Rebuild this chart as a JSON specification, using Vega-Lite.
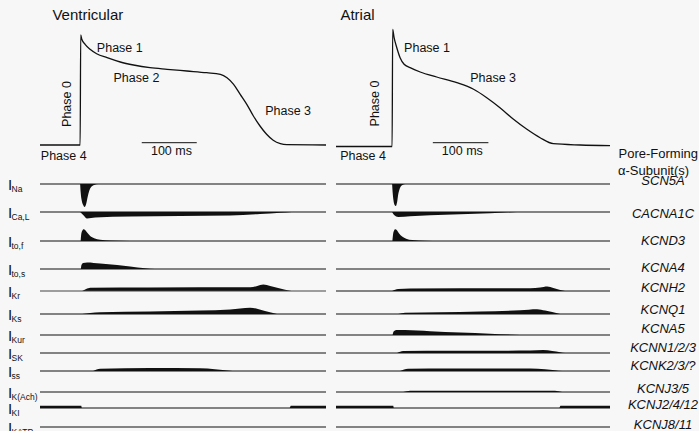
{
"$schema": "https://vega.github.io/schema/vega-lite/v6.json",
"background": "#f7f7f7",
"padding": {"left": 8, "top": 8, "right": 0, "bottom": 0},
"config": {"font": "Liberation Sans", "view": {"stroke": null}, "text": {"color": "#111"}},
"datasets": {
 "ap": [
  {"tissue":"Ventricular","t":-73,"v":-85},{"tissue":"Ventricular","t":0,"v":-85},{"tissue":"Ventricular","t":1,"v":25},{"tissue":"Ventricular","t":3,"v":20.7},{"tissue":"Ventricular","t":9,"v":15.7},{"tissue":"Ventricular","t":18,"v":10.7},{"tissue":"Ventricular","t":30,"v":6.3},{"tissue":"Ventricular","t":49,"v":2.3},{"tissue":"Ventricular","t":73,"v":-2},{"tissue":"Ventricular","t":97,"v":-5},{"tissue":"Ventricular","t":127,"v":-7.7},{"tissue":"Ventricular","t":158,"v":-9.3},{"tissue":"Ventricular","t":194,"v":-11},{"tissue":"Ventricular","t":230,"v":-12.7},{"tissue":"Ventricular","t":255,"v":-14.3},{"tissue":"Ventricular","t":267,"v":-17.7},{"tissue":"Ventricular","t":279,"v":-24.3},{"tissue":"Ventricular","t":291,"v":-34.3},{"tissue":"Ventricular","t":303,"v":-44.3},{"tissue":"Ventricular","t":315,"v":-56},{"tissue":"Ventricular","t":327,"v":-66},{"tissue":"Ventricular","t":339,"v":-74.3},{"tissue":"Ventricular","t":351,"v":-80.3},{"tissue":"Ventricular","t":364,"v":-83.7},{"tissue":"Ventricular","t":376,"v":-84.7},{"tissue":"Ventricular","t":447,"v":-85},
  {"tissue":"Atrial","t":-102,"v":-86.5},{"tissue":"Atrial","t":0,"v":-86.5},{"tissue":"Atrial","t":1,"v":30.7},{"tissue":"Atrial","t":3.6,"v":22.3},{"tissue":"Atrial","t":8.5,"v":12.3},{"tissue":"Atrial","t":14.5,"v":2.3},{"tissue":"Atrial","t":21.8,"v":-4.3},{"tissue":"Atrial","t":32.7,"v":-7.7},{"tissue":"Atrial","t":51,"v":-12},{"tissue":"Atrial","t":81,"v":-17},{"tissue":"Atrial","t":117.6,"v":-22.7},{"tissue":"Atrial","t":148,"v":-29.3},{"tissue":"Atrial","t":172,"v":-37.7},{"tissue":"Atrial","t":196,"v":-47.7},{"tissue":"Atrial","t":220.6,"v":-59.3},{"tissue":"Atrial","t":245,"v":-69.3},{"tissue":"Atrial","t":269,"v":-77.7},{"tissue":"Atrial","t":293,"v":-83.7},{"tissue":"Atrial","t":342,"v":-85},{"tissue":"Atrial","t":396,"v":-85.7}
 ],
 "bars": [
  {"tissue":"Ventricular","t1":112,"t2":212,"v":-82.7},
  {"tissue":"Atrial","t1":74,"t2":175,"v":-82.7}
 ],
 "notes": [
  {"tissue":"Ventricular","kind":"left","label":"Phase 1","t":30.4,"v":12.3},
  {"tissue":"Ventricular","kind":"left","label":"Phase 2","t":60.6,"v":-17.7},
  {"tissue":"Ventricular","kind":"left","label":"Phase 3","t":336.4,"v":-50.7},
  {"tissue":"Ventricular","kind":"left","label":"Phase 4","t":-71.5,"v":-96},
  {"tissue":"Ventricular","kind":"rot","label":"Phase 0","t":-24,"v":-44},
  {"tissue":"Ventricular","kind":"center","label":"100 ms","t":166,"v":-90.5},
  {"tissue":"Atrial","kind":"left","label":"Phase 1","t":21.8,"v":12.3},
  {"tissue":"Atrial","kind":"left","label":"Phase 3","t":141.8,"v":-17.7},
  {"tissue":"Atrial","kind":"left","label":"Phase 4","t":-94.5,"v":-96},
  {"tissue":"Atrial","kind":"rot","label":"Phase 0","t":-31,"v":-43.5},
  {"tissue":"Atrial","kind":"center","label":"100 ms","t":127.6,"v":-90.5},
  {"tissue":"Atrial","kind":"head","label":"Pore-Forming","t":411.5,"v":-94.3},
  {"tissue":"Atrial","kind":"head","label":"α-Subunit(s)","t":410.5,"v":-111}
 ],
 "rows": [
  {"current":"Na","gene":"SCN5A"},{"current":"Ca,L","gene":"CACNA1C"},{"current":"to,f","gene":"KCND3"},{"current":"to,s","gene":"KCNA4"},{"current":"Kr","gene":"KCNH2"},{"current":"Ks","gene":"KCNQ1"},{"current":"Kur","gene":"KCNA5"},{"current":"SK","gene":"KCNN1/2/3"},{"current":"ss","gene":"KCNK2/3/?"},{"current":"K(Ach)","gene":"KCNJ3/5"},{"current":"KI","gene":"KCNJ2/4/12"},{"current":"KATP","gene":"KCNJ8/11"}
 ],
 "cur": [
  {"tissue":"Ventricular","current":"Na","t":0,"amp":0},{"tissue":"Ventricular","current":"Na","t":0.9,"amp":-8},{"tissue":"Ventricular","current":"Na","t":2.7,"amp":-16},{"tissue":"Ventricular","current":"Na","t":5.5,"amp":-21},{"tissue":"Ventricular","current":"Na","t":8.2,"amp":-23},{"tissue":"Ventricular","current":"Na","t":10.9,"amp":-20},{"tissue":"Ventricular","current":"Na","t":13.6,"amp":-13},{"tissue":"Ventricular","current":"Na","t":16.4,"amp":-7},{"tissue":"Ventricular","current":"Na","t":20,"amp":-3},{"tissue":"Ventricular","current":"Na","t":25.5,"amp":-1},{"tissue":"Ventricular","current":"Na","t":32.7,"amp":0},
  {"tissue":"Ventricular","current":"Ca,L","t":0,"amp":0},{"tissue":"Ventricular","current":"Ca,L","t":5.5,"amp":-3},{"tissue":"Ventricular","current":"Ca,L","t":12.7,"amp":-6.5},{"tissue":"Ventricular","current":"Ca,L","t":27.3,"amp":-5.5},{"tissue":"Ventricular","current":"Ca,L","t":90.9,"amp":-4.5},{"tissue":"Ventricular","current":"Ca,L","t":181.8,"amp":-4},{"tissue":"Ventricular","current":"Ca,L","t":272.7,"amp":-3.5},{"tissue":"Ventricular","current":"Ca,L","t":327,"amp":-2},{"tissue":"Ventricular","current":"Ca,L","t":363.6,"amp":-0.8},{"tissue":"Ventricular","current":"Ca,L","t":385,"amp":0},
  {"tissue":"Ventricular","current":"to,f","t":0.9,"amp":0},{"tissue":"Ventricular","current":"to,f","t":1.8,"amp":6},{"tissue":"Ventricular","current":"to,f","t":3.6,"amp":10},{"tissue":"Ventricular","current":"to,f","t":6.4,"amp":11.7},{"tissue":"Ventricular","current":"to,f","t":9.1,"amp":11},{"tissue":"Ventricular","current":"to,f","t":12.7,"amp":8.5},{"tissue":"Ventricular","current":"to,f","t":18.2,"amp":5},{"tissue":"Ventricular","current":"to,f","t":25.5,"amp":2.8},{"tissue":"Ventricular","current":"to,f","t":36.4,"amp":1.3},{"tissue":"Ventricular","current":"to,f","t":54.5,"amp":0.5},{"tissue":"Ventricular","current":"to,f","t":91,"amp":0},
  {"tissue":"Ventricular","current":"to,s","t":1.3,"amp":0},{"tissue":"Ventricular","current":"to,s","t":2.4,"amp":4},{"tissue":"Ventricular","current":"to,s","t":5.5,"amp":6},{"tissue":"Ventricular","current":"to,s","t":12.7,"amp":6.6},{"tissue":"Ventricular","current":"to,s","t":36.4,"amp":5.5},{"tissue":"Ventricular","current":"to,s","t":67.3,"amp":4},{"tissue":"Ventricular","current":"to,s","t":90.9,"amp":2.5},{"tissue":"Ventricular","current":"to,s","t":118,"amp":0.8},{"tissue":"Ventricular","current":"to,s","t":136,"amp":0},
  {"tissue":"Ventricular","current":"Kr","t":3.6,"amp":0},{"tissue":"Ventricular","current":"Kr","t":10.9,"amp":2},{"tissue":"Ventricular","current":"Kr","t":18.2,"amp":3.3},{"tissue":"Ventricular","current":"Kr","t":127,"amp":3.5},{"tissue":"Ventricular","current":"Kr","t":309,"amp":3.7},{"tissue":"Ventricular","current":"Kr","t":322,"amp":5},{"tissue":"Ventricular","current":"Kr","t":333,"amp":6.5},{"tissue":"Ventricular","current":"Kr","t":345.5,"amp":5},{"tissue":"Ventricular","current":"Kr","t":363.6,"amp":2.5},{"tissue":"Ventricular","current":"Kr","t":381.8,"amp":0.3},{"tissue":"Ventricular","current":"Kr","t":387,"amp":0},
  {"tissue":"Ventricular","current":"Ks","t":3.6,"amp":0},{"tissue":"Ventricular","current":"Ks","t":18.2,"amp":1},{"tissue":"Ventricular","current":"Ks","t":36.4,"amp":1.7},{"tissue":"Ventricular","current":"Ks","t":127,"amp":2.6},{"tissue":"Ventricular","current":"Ks","t":218,"amp":3.4},{"tissue":"Ventricular","current":"Ks","t":273,"amp":4.5},{"tissue":"Ventricular","current":"Ks","t":309,"amp":6.3},{"tissue":"Ventricular","current":"Ks","t":320,"amp":5.5},{"tissue":"Ventricular","current":"Ks","t":336,"amp":3},{"tissue":"Ventricular","current":"Ks","t":358,"amp":0},
  {"tissue":"Ventricular","current":"ss","t":23.6,"amp":0},{"tissue":"Ventricular","current":"ss","t":36.4,"amp":2.3},{"tissue":"Ventricular","current":"ss","t":127,"amp":3},{"tissue":"Ventricular","current":"ss","t":218,"amp":2.8},{"tissue":"Ventricular","current":"ss","t":245,"amp":1.8},{"tissue":"Ventricular","current":"ss","t":273,"amp":0.3},{"tissue":"Ventricular","current":"ss","t":282,"amp":0},
  {"tissue":"Ventricular","current":"KI","t":-73,"amp":2.2},{"tissue":"Ventricular","current":"KI","t":2,"amp":2.2},{"tissue":"Ventricular","current":"KI","t":3,"amp":0},{"tissue":"Ventricular","current":"KI","t":381,"amp":0},{"tissue":"Ventricular","current":"KI","t":383,"amp":2.2},{"tissue":"Ventricular","current":"KI","t":447,"amp":2.2},
  {"tissue":"Atrial","current":"Na","t":0,"amp":0},{"tissue":"Atrial","current":"Na","t":0.9,"amp":-8},{"tissue":"Atrial","current":"Na","t":2.4,"amp":-16},{"tissue":"Atrial","current":"Na","t":4.5,"amp":-21},{"tissue":"Atrial","current":"Na","t":6.7,"amp":-22},{"tissue":"Atrial","current":"Na","t":9.1,"amp":-18},{"tissue":"Atrial","current":"Na","t":10.9,"amp":-11},{"tissue":"Atrial","current":"Na","t":13.6,"amp":-5},{"tissue":"Atrial","current":"Na","t":17.3,"amp":-1.5},{"tissue":"Atrial","current":"Na","t":23.6,"amp":0},
  {"tissue":"Atrial","current":"Ca,L","t":0,"amp":0},{"tissue":"Atrial","current":"Ca,L","t":3.6,"amp":-3},{"tissue":"Atrial","current":"Ca,L","t":10.9,"amp":-5},{"tissue":"Atrial","current":"Ca,L","t":32.7,"amp":-4.2},{"tissue":"Atrial","current":"Ca,L","t":69,"amp":-3.3},{"tissue":"Atrial","current":"Ca,L","t":123.6,"amp":-2.3},{"tissue":"Atrial","current":"Ca,L","t":178,"amp":-1.2},{"tissue":"Atrial","current":"Ca,L","t":227,"amp":0},
  {"tissue":"Atrial","current":"to,f","t":0.5,"amp":0},{"tissue":"Atrial","current":"to,f","t":1.8,"amp":7},{"tissue":"Atrial","current":"to,f","t":3.6,"amp":10.5},{"tissue":"Atrial","current":"to,f","t":5.5,"amp":11.7},{"tissue":"Atrial","current":"to,f","t":9.1,"amp":10.5},{"tissue":"Atrial","current":"to,f","t":12.7,"amp":7.5},{"tissue":"Atrial","current":"to,f","t":18.2,"amp":4.5},{"tissue":"Atrial","current":"to,f","t":25.5,"amp":2.3},{"tissue":"Atrial","current":"to,f","t":36.4,"amp":1},{"tissue":"Atrial","current":"to,f","t":60,"amp":0.3},{"tissue":"Atrial","current":"to,f","t":87,"amp":0},
  {"tissue":"Atrial","current":"Kr","t":0,"amp":0},{"tissue":"Atrial","current":"Kr","t":10.9,"amp":2},{"tissue":"Atrial","current":"Kr","t":32.7,"amp":2.5},{"tissue":"Atrial","current":"Kr","t":251,"amp":2.8},{"tissue":"Atrial","current":"Kr","t":269,"amp":3.5},{"tissue":"Atrial","current":"Kr","t":282,"amp":4.5},{"tissue":"Atrial","current":"Kr","t":293,"amp":3},{"tissue":"Atrial","current":"Kr","t":305.5,"amp":1},{"tissue":"Atrial","current":"Kr","t":314.5,"amp":0},
  {"tissue":"Atrial","current":"Ks","t":10.9,"amp":0},{"tissue":"Atrial","current":"Ks","t":23.6,"amp":1.2},{"tissue":"Atrial","current":"Ks","t":87,"amp":1.8},{"tissue":"Atrial","current":"Ks","t":160,"amp":2.6},{"tissue":"Atrial","current":"Ks","t":232.7,"amp":3.8},{"tissue":"Atrial","current":"Ks","t":263.6,"amp":4.8},{"tissue":"Atrial","current":"Ks","t":278,"amp":3.5},{"tissue":"Atrial","current":"Ks","t":291,"amp":2},{"tissue":"Atrial","current":"Ks","t":305.5,"amp":0},
  {"tissue":"Atrial","current":"Kur","t":0.9,"amp":0},{"tissue":"Atrial","current":"Kur","t":2.7,"amp":3.5},{"tissue":"Atrial","current":"Kur","t":7.3,"amp":5},{"tissue":"Atrial","current":"Kur","t":23.6,"amp":5},{"tissue":"Atrial","current":"Kur","t":69,"amp":3.8},{"tissue":"Atrial","current":"Kur","t":123.6,"amp":2.5},{"tissue":"Atrial","current":"Kur","t":178,"amp":1.3},{"tissue":"Atrial","current":"Kur","t":232.7,"amp":0},
  {"tissue":"Atrial","current":"SK","t":9.1,"amp":0},{"tissue":"Atrial","current":"SK","t":20,"amp":2},{"tissue":"Atrial","current":"SK","t":105.5,"amp":2.3},{"tissue":"Atrial","current":"SK","t":251,"amp":2.4},{"tissue":"Atrial","current":"SK","t":274.5,"amp":2.9},{"tissue":"Atrial","current":"SK","t":291,"amp":2},{"tissue":"Atrial","current":"SK","t":305.5,"amp":0.8},{"tissue":"Atrial","current":"SK","t":314.5,"amp":0},
  {"tissue":"Atrial","current":"ss","t":14.5,"amp":0},{"tissue":"Atrial","current":"ss","t":29,"amp":2.3},{"tissue":"Atrial","current":"ss","t":105.5,"amp":2.6},{"tissue":"Atrial","current":"ss","t":251,"amp":2.5},{"tissue":"Atrial","current":"ss","t":278,"amp":1.8},{"tissue":"Atrial","current":"ss","t":296,"amp":0.8},{"tissue":"Atrial","current":"ss","t":309,"amp":0},
  {"tissue":"Atrial","current":"K(Ach)","t":20,"amp":0},{"tissue":"Atrial","current":"K(Ach)","t":32.7,"amp":1.2},{"tissue":"Atrial","current":"K(Ach)","t":296,"amp":1.2},{"tissue":"Atrial","current":"K(Ach)","t":309,"amp":0},
  {"tissue":"Atrial","current":"KI","t":-102,"amp":2.2},{"tissue":"Atrial","current":"KI","t":2,"amp":2.2},{"tissue":"Atrial","current":"KI","t":3,"amp":0},{"tissue":"Atrial","current":"KI","t":304,"amp":0},{"tissue":"Atrial","current":"KI","t":306,"amp":2.2},{"tissue":"Atrial","current":"KI","t":396,"amp":2.2}
 ]
},
"columns": 2,
"spacing": {"row": 0, "column": 10},
"bounds": "flush",
"concat": [
  {"width": 286, "height": 150,
   "title": {"text": "Ventricular", "anchor": "start", "dx": 15, "dy": 14, "offset": 0, "baseline": "alphabetic", "fontSize": 15, "fontWeight": "normal", "color": "#111"},
   "layer": [
    {"data": {"name": "ap"}, "transform": [{"filter": "datum.tissue === 'Ventricular'"}], "mark": {"type": "line", "interpolate": "monotone", "color": "#111", "strokeWidth": 1.3}, "encoding": {"x": {"field": "t", "type": "quantitative", "scale": {"domain": [-73, 447], "nice": false, "zero": false}, "axis": null}, "y": {"field": "v", "type": "quantitative", "scale": {"domain": [-111, 39], "nice": false, "zero": false}, "axis": null}}},
    {"data": {"name": "bars"}, "transform": [{"filter": "datum.tissue === 'Ventricular'"}], "mark": {"type": "rule", "color": "#111", "strokeWidth": 1}, "encoding": {"x": {"field": "t1", "type": "quantitative"}, "x2": {"field": "t2"}, "y": {"field": "v", "type": "quantitative"}}},
    {"data": {"name": "notes"}, "transform": [{"filter": "datum.tissue === 'Ventricular' && datum.kind === 'left'"}], "mark": {"type": "text", "align": "left", "baseline": "middle", "fontSize": 12.5}, "encoding": {"x": {"field": "t", "type": "quantitative"}, "y": {"field": "v", "type": "quantitative"}, "text": {"field": "label"}}},
    {"data": {"name": "notes"}, "transform": [{"filter": "datum.tissue === 'Ventricular' && datum.kind === 'rot'"}], "mark": {"type": "text", "align": "center", "baseline": "middle", "angle": 270, "fontSize": 12.5}, "encoding": {"x": {"field": "t", "type": "quantitative"}, "y": {"field": "v", "type": "quantitative"}, "text": {"field": "label"}}},
    {"data": {"name": "notes"}, "transform": [{"filter": "datum.tissue === 'Ventricular' && datum.kind === 'center'"}], "mark": {"type": "text", "align": "center", "baseline": "middle", "fontSize": 12.5}, "encoding": {"x": {"field": "t", "type": "quantitative"}, "y": {"field": "v", "type": "quantitative"}, "text": {"field": "label"}}}
   ]},
  {"width": 274, "height": 150,
   "title": {"text": "Atrial", "anchor": "start", "dx": 7, "dy": 14, "offset": 0, "baseline": "alphabetic", "fontSize": 15, "fontWeight": "normal", "color": "#111"},
   "layer": [
    {"data": {"name": "ap"}, "transform": [{"filter": "datum.tissue === 'Atrial'"}], "mark": {"type": "line", "interpolate": "monotone", "color": "#111", "strokeWidth": 1.3}, "encoding": {"x": {"field": "t", "type": "quantitative", "scale": {"domain": [-102, 396], "nice": false, "zero": false}, "axis": null}, "y": {"field": "v", "type": "quantitative", "scale": {"domain": [-111, 39], "nice": false, "zero": false}, "axis": null}}},
    {"data": {"name": "bars"}, "transform": [{"filter": "datum.tissue === 'Atrial'"}], "mark": {"type": "rule", "color": "#111", "strokeWidth": 1}, "encoding": {"x": {"field": "t1", "type": "quantitative"}, "x2": {"field": "t2"}, "y": {"field": "v", "type": "quantitative"}}},
    {"data": {"name": "notes"}, "transform": [{"filter": "datum.tissue === 'Atrial' && datum.kind === 'left'"}], "mark": {"type": "text", "align": "left", "baseline": "middle", "fontSize": 12.5}, "encoding": {"x": {"field": "t", "type": "quantitative"}, "y": {"field": "v", "type": "quantitative"}, "text": {"field": "label"}}},
    {"data": {"name": "notes"}, "transform": [{"filter": "datum.tissue === 'Atrial' && datum.kind === 'rot'"}], "mark": {"type": "text", "align": "center", "baseline": "middle", "angle": 270, "fontSize": 12.5}, "encoding": {"x": {"field": "t", "type": "quantitative"}, "y": {"field": "v", "type": "quantitative"}, "text": {"field": "label"}}},
    {"data": {"name": "notes"}, "transform": [{"filter": "datum.tissue === 'Atrial' && datum.kind === 'center'"}], "mark": {"type": "text", "align": "center", "baseline": "middle", "fontSize": 12.5}, "encoding": {"x": {"field": "t", "type": "quantitative"}, "y": {"field": "v", "type": "quantitative"}, "text": {"field": "label"}}},
    {"data": {"name": "notes"}, "transform": [{"filter": "datum.tissue === 'Atrial' && datum.kind === 'head'"}], "mark": {"type": "text", "align": "left", "baseline": "middle", "fontSize": 13}, "encoding": {"x": {"field": "t", "type": "quantitative"}, "y": {"field": "v", "type": "quantitative"}, "text": {"field": "label"}}}
   ]},

  {"width": 286, "height": 28, "layer": [
   {"data": {"name": "cur"}, "transform": [{"filter": "datum.tissue === 'Ventricular' && datum.current === 'Na'"}], "mark": {"type": "area", "interpolate": "monotone", "color": "#111"}, "encoding": {"x": {"field": "t", "type": "quantitative", "scale": {"domain": [-73, 447], "nice": false, "zero": false}, "axis": null}, "y": {"field": "amp", "type": "quantitative", "scale": {"domain": [-15, 13], "nice": false, "zero": false}, "axis": null}, "y2": {"datum": 0}}},
   {"data": {"name": "rows"}, "transform": [{"filter": "datum.current === 'Na'"}], "layer": [
    {"mark": {"type": "rule", "color": "#111", "strokeWidth": 1.1}, "encoding": {"y": {"datum": 0, "type": "quantitative"}}},
    {"mark": {"type": "text", "text": "I", "align": "left", "baseline": "alphabetic", "dx": -32, "dy": 6, "fontSize": 15}, "encoding": {"x": {"datum": -73, "type": "quantitative"}, "y": {"datum": 0, "type": "quantitative"}}},
    {"mark": {"type": "text", "align": "left", "baseline": "alphabetic", "dx": -28.5, "dy": 8, "fontSize": 8.5}, "encoding": {"x": {"datum": -73, "type": "quantitative"}, "y": {"datum": 0, "type": "quantitative"}, "text": {"field": "current"}}}
   ]}
  ]},
  {"width": 274, "height": 28, "layer": [
   {"data": {"name": "cur"}, "transform": [{"filter": "datum.tissue === 'Atrial' && datum.current === 'Na'"}], "mark": {"type": "area", "interpolate": "monotone", "color": "#111"}, "encoding": {"x": {"field": "t", "type": "quantitative", "scale": {"domain": [-102, 396], "nice": false, "zero": false}, "axis": null}, "y": {"field": "amp", "type": "quantitative", "scale": {"domain": [-15, 13], "nice": false, "zero": false}, "axis": null}, "y2": {"datum": 0}}},
   {"data": {"name": "rows"}, "transform": [{"filter": "datum.current === 'Na'"}], "layer": [
    {"mark": {"type": "rule", "color": "#111", "strokeWidth": 1.1}, "encoding": {"y": {"datum": 0, "type": "quantitative"}}},
    {"mark": {"type": "text", "align": "center", "baseline": "middle", "dx": 53, "dy": -3, "fontSize": 13, "fontStyle": "italic"}, "encoding": {"x": {"datum": 396, "type": "quantitative"}, "y": {"datum": 0, "type": "quantitative"}, "text": {"field": "gene"}}}
   ]}
  ]},

  {"width": 286, "height": 29, "layer": [
   {"data": {"name": "cur"}, "transform": [{"filter": "datum.tissue === 'Ventricular' && datum.current === 'Ca,L'"}], "mark": {"type": "area", "interpolate": "monotone", "color": "#111"}, "encoding": {"x": {"field": "t", "type": "quantitative", "scale": {"domain": [-73, 447], "nice": false, "zero": false}, "axis": null}, "y": {"field": "amp", "type": "quantitative", "scale": {"domain": [-16, 13], "nice": false, "zero": false}, "axis": null}, "y2": {"datum": 0}}},
   {"data": {"name": "rows"}, "transform": [{"filter": "datum.current === 'Ca,L'"}], "layer": [
    {"mark": {"type": "rule", "color": "#111", "strokeWidth": 1.1}, "encoding": {"y": {"datum": 0, "type": "quantitative"}}},
    {"mark": {"type": "text", "text": "I", "align": "left", "baseline": "alphabetic", "dx": -32, "dy": 6, "fontSize": 15}, "encoding": {"x": {"datum": -73, "type": "quantitative"}, "y": {"datum": 0, "type": "quantitative"}}},
    {"mark": {"type": "text", "align": "left", "baseline": "alphabetic", "dx": -28.5, "dy": 8, "fontSize": 8.5}, "encoding": {"x": {"datum": -73, "type": "quantitative"}, "y": {"datum": 0, "type": "quantitative"}, "text": {"field": "current"}}}
   ]}
  ]},
  {"width": 274, "height": 29, "layer": [
   {"data": {"name": "cur"}, "transform": [{"filter": "datum.tissue === 'Atrial' && datum.current === 'Ca,L'"}], "mark": {"type": "area", "interpolate": "monotone", "color": "#111"}, "encoding": {"x": {"field": "t", "type": "quantitative", "scale": {"domain": [-102, 396], "nice": false, "zero": false}, "axis": null}, "y": {"field": "amp", "type": "quantitative", "scale": {"domain": [-16, 13], "nice": false, "zero": false}, "axis": null}, "y2": {"datum": 0}}},
   {"data": {"name": "rows"}, "transform": [{"filter": "datum.current === 'Ca,L'"}], "layer": [
    {"mark": {"type": "rule", "color": "#111", "strokeWidth": 1.1}, "encoding": {"y": {"datum": 0, "type": "quantitative"}}},
    {"mark": {"type": "text", "align": "center", "baseline": "middle", "dx": 53, "dy": 2, "fontSize": 13, "fontStyle": "italic"}, "encoding": {"x": {"datum": 396, "type": "quantitative"}, "y": {"datum": 0, "type": "quantitative"}, "text": {"field": "gene"}}}
   ]}
  ]},

  {"width": 286, "height": 28, "layer": [
   {"data": {"name": "cur"}, "transform": [{"filter": "datum.tissue === 'Ventricular' && datum.current === 'to,f'"}], "mark": {"type": "area", "interpolate": "monotone", "color": "#111"}, "encoding": {"x": {"field": "t", "type": "quantitative", "scale": {"domain": [-73, 447], "nice": false, "zero": false}, "axis": null}, "y": {"field": "amp", "type": "quantitative", "scale": {"domain": [-15, 13], "nice": false, "zero": false}, "axis": null}, "y2": {"datum": 0}}},
   {"data": {"name": "rows"}, "transform": [{"filter": "datum.current === 'to,f'"}], "layer": [
    {"mark": {"type": "rule", "color": "#111", "strokeWidth": 1.1}, "encoding": {"y": {"datum": 0, "type": "quantitative"}}},
    {"mark": {"type": "text", "text": "I", "align": "left", "baseline": "alphabetic", "dx": -32, "dy": 6, "fontSize": 15}, "encoding": {"x": {"datum": -73, "type": "quantitative"}, "y": {"datum": 0, "type": "quantitative"}}},
    {"mark": {"type": "text", "align": "left", "baseline": "alphabetic", "dx": -28.5, "dy": 8, "fontSize": 8.5}, "encoding": {"x": {"datum": -73, "type": "quantitative"}, "y": {"datum": 0, "type": "quantitative"}, "text": {"field": "current"}}}
   ]}
  ]},
  {"width": 274, "height": 28, "layer": [
   {"data": {"name": "cur"}, "transform": [{"filter": "datum.tissue === 'Atrial' && datum.current === 'to,f'"}], "mark": {"type": "area", "interpolate": "monotone", "color": "#111"}, "encoding": {"x": {"field": "t", "type": "quantitative", "scale": {"domain": [-102, 396], "nice": false, "zero": false}, "axis": null}, "y": {"field": "amp", "type": "quantitative", "scale": {"domain": [-15, 13], "nice": false, "zero": false}, "axis": null}, "y2": {"datum": 0}}},
   {"data": {"name": "rows"}, "transform": [{"filter": "datum.current === 'to,f'"}], "layer": [
    {"mark": {"type": "rule", "color": "#111", "strokeWidth": 1.1}, "encoding": {"y": {"datum": 0, "type": "quantitative"}}},
    {"mark": {"type": "text", "align": "center", "baseline": "middle", "dx": 53, "dy": 0, "fontSize": 13, "fontStyle": "italic"}, "encoding": {"x": {"datum": 396, "type": "quantitative"}, "y": {"datum": 0, "type": "quantitative"}, "text": {"field": "gene"}}}
   ]}
  ]},

  {"width": 286, "height": 22, "layer": [
   {"data": {"name": "cur"}, "transform": [{"filter": "datum.tissue === 'Ventricular' && datum.current === 'to,s'"}], "mark": {"type": "area", "interpolate": "monotone", "color": "#111"}, "encoding": {"x": {"field": "t", "type": "quantitative", "scale": {"domain": [-73, 447], "nice": false, "zero": false}, "axis": null}, "y": {"field": "amp", "type": "quantitative", "scale": {"domain": [-9, 13], "nice": false, "zero": false}, "axis": null}, "y2": {"datum": 0}}},
   {"data": {"name": "rows"}, "transform": [{"filter": "datum.current === 'to,s'"}], "layer": [
    {"mark": {"type": "rule", "color": "#111", "strokeWidth": 1.1}, "encoding": {"y": {"datum": 0, "type": "quantitative"}}},
    {"mark": {"type": "text", "text": "I", "align": "left", "baseline": "alphabetic", "dx": -32, "dy": 6, "fontSize": 15}, "encoding": {"x": {"datum": -73, "type": "quantitative"}, "y": {"datum": 0, "type": "quantitative"}}},
    {"mark": {"type": "text", "align": "left", "baseline": "alphabetic", "dx": -28.5, "dy": 8, "fontSize": 8.5}, "encoding": {"x": {"datum": -73, "type": "quantitative"}, "y": {"datum": 0, "type": "quantitative"}, "text": {"field": "current"}}}
   ]}
  ]},
  {"width": 274, "height": 22, "layer": [
   {"data": {"name": "cur"}, "transform": [{"filter": "datum.tissue === 'Atrial' && datum.current === 'to,s'"}], "mark": {"type": "area", "interpolate": "monotone", "color": "#111"}, "encoding": {"x": {"field": "t", "type": "quantitative", "scale": {"domain": [-102, 396], "nice": false, "zero": false}, "axis": null}, "y": {"field": "amp", "type": "quantitative", "scale": {"domain": [-9, 13], "nice": false, "zero": false}, "axis": null}, "y2": {"datum": 0}}},
   {"data": {"name": "rows"}, "transform": [{"filter": "datum.current === 'to,s'"}], "layer": [
    {"mark": {"type": "rule", "color": "#111", "strokeWidth": 1.1}, "encoding": {"y": {"datum": 0, "type": "quantitative"}}},
    {"mark": {"type": "text", "align": "center", "baseline": "middle", "dx": 53, "dy": -1, "fontSize": 13, "fontStyle": "italic"}, "encoding": {"x": {"datum": 396, "type": "quantitative"}, "y": {"datum": 0, "type": "quantitative"}, "text": {"field": "gene"}}}
   ]}
  ]},

  {"width": 286, "height": 23, "layer": [
   {"data": {"name": "cur"}, "transform": [{"filter": "datum.tissue === 'Ventricular' && datum.current === 'Kr'"}], "mark": {"type": "area", "interpolate": "monotone", "color": "#111"}, "encoding": {"x": {"field": "t", "type": "quantitative", "scale": {"domain": [-73, 447], "nice": false, "zero": false}, "axis": null}, "y": {"field": "amp", "type": "quantitative", "scale": {"domain": [-10, 13], "nice": false, "zero": false}, "axis": null}, "y2": {"datum": 0}}},
   {"data": {"name": "rows"}, "transform": [{"filter": "datum.current === 'Kr'"}], "layer": [
    {"mark": {"type": "rule", "color": "#444", "strokeWidth": 1.1}, "encoding": {"y": {"datum": 0, "type": "quantitative"}}},
    {"mark": {"type": "text", "text": "I", "align": "left", "baseline": "alphabetic", "dx": -32, "dy": 6, "fontSize": 15}, "encoding": {"x": {"datum": -73, "type": "quantitative"}, "y": {"datum": 0, "type": "quantitative"}}},
    {"mark": {"type": "text", "align": "left", "baseline": "alphabetic", "dx": -28.5, "dy": 8, "fontSize": 8.5}, "encoding": {"x": {"datum": -73, "type": "quantitative"}, "y": {"datum": 0, "type": "quantitative"}, "text": {"field": "current"}}}
   ]}
  ]},
  {"width": 274, "height": 23, "layer": [
   {"data": {"name": "cur"}, "transform": [{"filter": "datum.tissue === 'Atrial' && datum.current === 'Kr'"}], "mark": {"type": "area", "interpolate": "monotone", "color": "#111"}, "encoding": {"x": {"field": "t", "type": "quantitative", "scale": {"domain": [-102, 396], "nice": false, "zero": false}, "axis": null}, "y": {"field": "amp", "type": "quantitative", "scale": {"domain": [-10, 13], "nice": false, "zero": false}, "axis": null}, "y2": {"datum": 0}}},
   {"data": {"name": "rows"}, "transform": [{"filter": "datum.current === 'Kr'"}], "layer": [
    {"mark": {"type": "rule", "color": "#111", "strokeWidth": 1.1}, "encoding": {"y": {"datum": 0, "type": "quantitative"}}},
    {"mark": {"type": "text", "align": "center", "baseline": "middle", "dx": 53, "dy": -3, "fontSize": 13, "fontStyle": "italic"}, "encoding": {"x": {"datum": 396, "type": "quantitative"}, "y": {"datum": 0, "type": "quantitative"}, "text": {"field": "gene"}}}
   ]}
  ]},

  {"width": 286, "height": 21, "layer": [
   {"data": {"name": "cur"}, "transform": [{"filter": "datum.tissue === 'Ventricular' && datum.current === 'Ks'"}], "mark": {"type": "area", "interpolate": "monotone", "color": "#111"}, "encoding": {"x": {"field": "t", "type": "quantitative", "scale": {"domain": [-73, 447], "nice": false, "zero": false}, "axis": null}, "y": {"field": "amp", "type": "quantitative", "scale": {"domain": [-8, 13], "nice": false, "zero": false}, "axis": null}, "y2": {"datum": 0}}},
   {"data": {"name": "rows"}, "transform": [{"filter": "datum.current === 'Ks'"}], "layer": [
    {"mark": {"type": "rule", "color": "#111", "strokeWidth": 1.1}, "encoding": {"y": {"datum": 0, "type": "quantitative"}}},
    {"mark": {"type": "text", "text": "I", "align": "left", "baseline": "alphabetic", "dx": -32, "dy": 6, "fontSize": 15}, "encoding": {"x": {"datum": -73, "type": "quantitative"}, "y": {"datum": 0, "type": "quantitative"}}},
    {"mark": {"type": "text", "align": "left", "baseline": "alphabetic", "dx": -28.5, "dy": 8, "fontSize": 8.5}, "encoding": {"x": {"datum": -73, "type": "quantitative"}, "y": {"datum": 0, "type": "quantitative"}, "text": {"field": "current"}}}
   ]}
  ]},
  {"width": 274, "height": 21, "layer": [
   {"data": {"name": "cur"}, "transform": [{"filter": "datum.tissue === 'Atrial' && datum.current === 'Ks'"}], "mark": {"type": "area", "interpolate": "monotone", "color": "#111"}, "encoding": {"x": {"field": "t", "type": "quantitative", "scale": {"domain": [-102, 396], "nice": false, "zero": false}, "axis": null}, "y": {"field": "amp", "type": "quantitative", "scale": {"domain": [-8, 13], "nice": false, "zero": false}, "axis": null}, "y2": {"datum": 0}}},
   {"data": {"name": "rows"}, "transform": [{"filter": "datum.current === 'Ks'"}], "layer": [
    {"mark": {"type": "rule", "color": "#111", "strokeWidth": 1.1}, "encoding": {"y": {"datum": 0, "type": "quantitative"}}},
    {"mark": {"type": "text", "align": "center", "baseline": "middle", "dx": 53, "dy": -4, "fontSize": 13, "fontStyle": "italic"}, "encoding": {"x": {"datum": 396, "type": "quantitative"}, "y": {"datum": 0, "type": "quantitative"}, "text": {"field": "gene"}}}
   ]}
  ]},

  {"width": 286, "height": 18, "layer": [
   {"data": {"name": "cur"}, "transform": [{"filter": "datum.tissue === 'Ventricular' && datum.current === 'Kur'"}], "mark": {"type": "area", "interpolate": "monotone", "color": "#111"}, "encoding": {"x": {"field": "t", "type": "quantitative", "scale": {"domain": [-73, 447], "nice": false, "zero": false}, "axis": null}, "y": {"field": "amp", "type": "quantitative", "scale": {"domain": [-5, 13], "nice": false, "zero": false}, "axis": null}, "y2": {"datum": 0}}},
   {"data": {"name": "rows"}, "transform": [{"filter": "datum.current === 'Kur'"}], "layer": [
    {"mark": {"type": "rule", "color": "#111", "strokeWidth": 1.1}, "encoding": {"y": {"datum": 0, "type": "quantitative"}}},
    {"mark": {"type": "text", "text": "I", "align": "left", "baseline": "alphabetic", "dx": -32, "dy": 6, "fontSize": 15}, "encoding": {"x": {"datum": -73, "type": "quantitative"}, "y": {"datum": 0, "type": "quantitative"}}},
    {"mark": {"type": "text", "align": "left", "baseline": "alphabetic", "dx": -28.5, "dy": 8, "fontSize": 8.5}, "encoding": {"x": {"datum": -73, "type": "quantitative"}, "y": {"datum": 0, "type": "quantitative"}, "text": {"field": "current"}}}
   ]}
  ]},
  {"width": 274, "height": 18, "layer": [
   {"data": {"name": "cur"}, "transform": [{"filter": "datum.tissue === 'Atrial' && datum.current === 'Kur'"}], "mark": {"type": "area", "interpolate": "monotone", "color": "#111"}, "encoding": {"x": {"field": "t", "type": "quantitative", "scale": {"domain": [-102, 396], "nice": false, "zero": false}, "axis": null}, "y": {"field": "amp", "type": "quantitative", "scale": {"domain": [-5, 13], "nice": false, "zero": false}, "axis": null}, "y2": {"datum": 0}}},
   {"data": {"name": "rows"}, "transform": [{"filter": "datum.current === 'Kur'"}], "layer": [
    {"mark": {"type": "rule", "color": "#111", "strokeWidth": 1.1}, "encoding": {"y": {"datum": 0, "type": "quantitative"}}},
    {"mark": {"type": "text", "align": "center", "baseline": "middle", "dx": 53, "dy": -6, "fontSize": 13, "fontStyle": "italic"}, "encoding": {"x": {"datum": 396, "type": "quantitative"}, "y": {"datum": 0, "type": "quantitative"}, "text": {"field": "gene"}}}
   ]}
  ]},

  {"width": 286, "height": 18, "layer": [
   {"data": {"name": "cur"}, "transform": [{"filter": "datum.tissue === 'Ventricular' && datum.current === 'SK'"}], "mark": {"type": "area", "interpolate": "monotone", "color": "#111"}, "encoding": {"x": {"field": "t", "type": "quantitative", "scale": {"domain": [-73, 447], "nice": false, "zero": false}, "axis": null}, "y": {"field": "amp", "type": "quantitative", "scale": {"domain": [-5, 13], "nice": false, "zero": false}, "axis": null}, "y2": {"datum": 0}}},
   {"data": {"name": "rows"}, "transform": [{"filter": "datum.current === 'SK'"}], "layer": [
    {"mark": {"type": "rule", "color": "#111", "strokeWidth": 1.1}, "encoding": {"y": {"datum": 0, "type": "quantitative"}}},
    {"mark": {"type": "text", "text": "I", "align": "left", "baseline": "alphabetic", "dx": -32, "dy": 6, "fontSize": 15}, "encoding": {"x": {"datum": -73, "type": "quantitative"}, "y": {"datum": 0, "type": "quantitative"}}},
    {"mark": {"type": "text", "align": "left", "baseline": "alphabetic", "dx": -28.5, "dy": 8, "fontSize": 8.5}, "encoding": {"x": {"datum": -73, "type": "quantitative"}, "y": {"datum": 0, "type": "quantitative"}, "text": {"field": "current"}}}
   ]}
  ]},
  {"width": 274, "height": 18, "layer": [
   {"data": {"name": "cur"}, "transform": [{"filter": "datum.tissue === 'Atrial' && datum.current === 'SK'"}], "mark": {"type": "area", "interpolate": "monotone", "color": "#111"}, "encoding": {"x": {"field": "t", "type": "quantitative", "scale": {"domain": [-102, 396], "nice": false, "zero": false}, "axis": null}, "y": {"field": "amp", "type": "quantitative", "scale": {"domain": [-5, 13], "nice": false, "zero": false}, "axis": null}, "y2": {"datum": 0}}},
   {"data": {"name": "rows"}, "transform": [{"filter": "datum.current === 'SK'"}], "layer": [
    {"mark": {"type": "rule", "color": "#111", "strokeWidth": 1.1}, "encoding": {"y": {"datum": 0, "type": "quantitative"}}},
    {"mark": {"type": "text", "align": "center", "baseline": "middle", "dx": 53, "dy": -5, "fontSize": 13, "fontStyle": "italic"}, "encoding": {"x": {"datum": 396, "type": "quantitative"}, "y": {"datum": 0, "type": "quantitative"}, "text": {"field": "gene"}}}
   ]}
  ]},

  {"width": 286, "height": 21, "layer": [
   {"data": {"name": "cur"}, "transform": [{"filter": "datum.tissue === 'Ventricular' && datum.current === 'ss'"}], "mark": {"type": "area", "interpolate": "monotone", "color": "#111"}, "encoding": {"x": {"field": "t", "type": "quantitative", "scale": {"domain": [-73, 447], "nice": false, "zero": false}, "axis": null}, "y": {"field": "amp", "type": "quantitative", "scale": {"domain": [-8, 13], "nice": false, "zero": false}, "axis": null}, "y2": {"datum": 0}}},
   {"data": {"name": "rows"}, "transform": [{"filter": "datum.current === 'ss'"}], "layer": [
    {"mark": {"type": "rule", "color": "#111", "strokeWidth": 1.1}, "encoding": {"y": {"datum": 0, "type": "quantitative"}}},
    {"mark": {"type": "text", "text": "I", "align": "left", "baseline": "alphabetic", "dx": -32, "dy": 6, "fontSize": 15}, "encoding": {"x": {"datum": -73, "type": "quantitative"}, "y": {"datum": 0, "type": "quantitative"}}},
    {"mark": {"type": "text", "align": "left", "baseline": "alphabetic", "dx": -28.5, "dy": 8, "fontSize": 8.5}, "encoding": {"x": {"datum": -73, "type": "quantitative"}, "y": {"datum": 0, "type": "quantitative"}, "text": {"field": "current"}}}
   ]}
  ]},
  {"width": 274, "height": 21, "layer": [
   {"data": {"name": "cur"}, "transform": [{"filter": "datum.tissue === 'Atrial' && datum.current === 'ss'"}], "mark": {"type": "area", "interpolate": "monotone", "color": "#111"}, "encoding": {"x": {"field": "t", "type": "quantitative", "scale": {"domain": [-102, 396], "nice": false, "zero": false}, "axis": null}, "y": {"field": "amp", "type": "quantitative", "scale": {"domain": [-8, 13], "nice": false, "zero": false}, "axis": null}, "y2": {"datum": 0}}},
   {"data": {"name": "rows"}, "transform": [{"filter": "datum.current === 'ss'"}], "layer": [
    {"mark": {"type": "rule", "color": "#111", "strokeWidth": 1.1}, "encoding": {"y": {"datum": 0, "type": "quantitative"}}},
    {"mark": {"type": "text", "align": "center", "baseline": "middle", "dx": 53, "dy": -5, "fontSize": 13, "fontStyle": "italic"}, "encoding": {"x": {"datum": 396, "type": "quantitative"}, "y": {"datum": 0, "type": "quantitative"}, "text": {"field": "gene"}}}
   ]}
  ]},

  {"width": 286, "height": 16, "layer": [
   {"data": {"name": "cur"}, "transform": [{"filter": "datum.tissue === 'Ventricular' && datum.current === 'K(Ach)'"}], "mark": {"type": "area", "interpolate": "monotone", "color": "#111"}, "encoding": {"x": {"field": "t", "type": "quantitative", "scale": {"domain": [-73, 447], "nice": false, "zero": false}, "axis": null}, "y": {"field": "amp", "type": "quantitative", "scale": {"domain": [-3, 13], "nice": false, "zero": false}, "axis": null}, "y2": {"datum": 0}}},
   {"data": {"name": "rows"}, "transform": [{"filter": "datum.current === 'K(Ach)'"}], "layer": [
    {"mark": {"type": "rule", "color": "#111", "strokeWidth": 1.1}, "encoding": {"y": {"datum": 0, "type": "quantitative"}}},
    {"mark": {"type": "text", "text": "I", "align": "left", "baseline": "alphabetic", "dx": -32, "dy": 6, "fontSize": 15}, "encoding": {"x": {"datum": -73, "type": "quantitative"}, "y": {"datum": 0, "type": "quantitative"}}},
    {"mark": {"type": "text", "align": "left", "baseline": "alphabetic", "dx": -28.5, "dy": 8, "fontSize": 8.5}, "encoding": {"x": {"datum": -73, "type": "quantitative"}, "y": {"datum": 0, "type": "quantitative"}, "text": {"field": "current"}}}
   ]}
  ]},
  {"width": 274, "height": 16, "layer": [
   {"data": {"name": "cur"}, "transform": [{"filter": "datum.tissue === 'Atrial' && datum.current === 'K(Ach)'"}], "mark": {"type": "area", "interpolate": "monotone", "color": "#111"}, "encoding": {"x": {"field": "t", "type": "quantitative", "scale": {"domain": [-102, 396], "nice": false, "zero": false}, "axis": null}, "y": {"field": "amp", "type": "quantitative", "scale": {"domain": [-3, 13], "nice": false, "zero": false}, "axis": null}, "y2": {"datum": 0}}},
   {"data": {"name": "rows"}, "transform": [{"filter": "datum.current === 'K(Ach)'"}], "layer": [
    {"mark": {"type": "rule", "color": "#111", "strokeWidth": 1.1}, "encoding": {"y": {"datum": 0, "type": "quantitative"}}},
    {"mark": {"type": "text", "align": "center", "baseline": "middle", "dx": 53, "dy": -3, "fontSize": 13, "fontStyle": "italic"}, "encoding": {"x": {"datum": 396, "type": "quantitative"}, "y": {"datum": 0, "type": "quantitative"}, "text": {"field": "gene"}}}
   ]}
  ]},

  {"width": 286, "height": 19, "layer": [
   {"data": {"name": "cur"}, "transform": [{"filter": "datum.tissue === 'Ventricular' && datum.current === 'KI'"}], "mark": {"type": "area", "interpolate": "monotone", "color": "#111"}, "encoding": {"x": {"field": "t", "type": "quantitative", "scale": {"domain": [-73, 447], "nice": false, "zero": false}, "axis": null}, "y": {"field": "amp", "type": "quantitative", "scale": {"domain": [-6, 13], "nice": false, "zero": false}, "axis": null}, "y2": {"datum": 0}}},
   {"data": {"name": "rows"}, "transform": [{"filter": "datum.current === 'KI'"}], "layer": [
    {"mark": {"type": "rule", "color": "#111", "strokeWidth": 1.1}, "encoding": {"y": {"datum": 0, "type": "quantitative"}}},
    {"mark": {"type": "text", "text": "I", "align": "left", "baseline": "alphabetic", "dx": -32, "dy": 6, "fontSize": 15}, "encoding": {"x": {"datum": -73, "type": "quantitative"}, "y": {"datum": 0, "type": "quantitative"}}},
    {"mark": {"type": "text", "align": "left", "baseline": "alphabetic", "dx": -28.5, "dy": 8, "fontSize": 8.5}, "encoding": {"x": {"datum": -73, "type": "quantitative"}, "y": {"datum": 0, "type": "quantitative"}, "text": {"field": "current"}}}
   ]}
  ]},
  {"width": 274, "height": 19, "layer": [
   {"data": {"name": "cur"}, "transform": [{"filter": "datum.tissue === 'Atrial' && datum.current === 'KI'"}], "mark": {"type": "area", "interpolate": "monotone", "color": "#111"}, "encoding": {"x": {"field": "t", "type": "quantitative", "scale": {"domain": [-102, 396], "nice": false, "zero": false}, "axis": null}, "y": {"field": "amp", "type": "quantitative", "scale": {"domain": [-6, 13], "nice": false, "zero": false}, "axis": null}, "y2": {"datum": 0}}},
   {"data": {"name": "rows"}, "transform": [{"filter": "datum.current === 'KI'"}], "layer": [
    {"mark": {"type": "rule", "color": "#111", "strokeWidth": 1.1}, "encoding": {"y": {"datum": 0, "type": "quantitative"}}},
    {"mark": {"type": "text", "align": "center", "baseline": "middle", "dx": 53, "dy": -3, "fontSize": 13, "fontStyle": "italic"}, "encoding": {"x": {"datum": 396, "type": "quantitative"}, "y": {"datum": 0, "type": "quantitative"}, "text": {"field": "gene"}}}
   ]}
  ]},

  {"width": 286, "height": 18, "layer": [
   {"data": {"name": "cur"}, "transform": [{"filter": "datum.tissue === 'Ventricular' && datum.current === 'KATP'"}], "mark": {"type": "area", "interpolate": "monotone", "color": "#111"}, "encoding": {"x": {"field": "t", "type": "quantitative", "scale": {"domain": [-73, 447], "nice": false, "zero": false}, "axis": null}, "y": {"field": "amp", "type": "quantitative", "scale": {"domain": [-5, 13], "nice": false, "zero": false}, "axis": null}, "y2": {"datum": 0}}},
   {"data": {"name": "rows"}, "transform": [{"filter": "datum.current === 'KATP'"}], "layer": [
    {"mark": {"type": "rule", "color": "#111", "strokeWidth": 1.1}, "encoding": {"y": {"datum": 0, "type": "quantitative"}}},
    {"mark": {"type": "text", "text": "I", "align": "left", "baseline": "alphabetic", "dx": -32, "dy": 6, "fontSize": 15}, "encoding": {"x": {"datum": -73, "type": "quantitative"}, "y": {"datum": 0, "type": "quantitative"}}},
    {"mark": {"type": "text", "align": "left", "baseline": "alphabetic", "dx": -28.5, "dy": 8, "fontSize": 8.5}, "encoding": {"x": {"datum": -73, "type": "quantitative"}, "y": {"datum": 0, "type": "quantitative"}, "text": {"field": "current"}}}
   ]}
  ]},
  {"width": 274, "height": 18, "layer": [
   {"data": {"name": "cur"}, "transform": [{"filter": "datum.tissue === 'Atrial' && datum.current === 'KATP'"}], "mark": {"type": "area", "interpolate": "monotone", "color": "#111"}, "encoding": {"x": {"field": "t", "type": "quantitative", "scale": {"domain": [-102, 396], "nice": false, "zero": false}, "axis": null}, "y": {"field": "amp", "type": "quantitative", "scale": {"domain": [-5, 13], "nice": false, "zero": false}, "axis": null}, "y2": {"datum": 0}}},
   {"data": {"name": "rows"}, "transform": [{"filter": "datum.current === 'KATP'"}], "layer": [
    {"mark": {"type": "rule", "color": "#111", "strokeWidth": 1.1}, "encoding": {"y": {"datum": 0, "type": "quantitative"}}},
    {"mark": {"type": "text", "align": "center", "baseline": "middle", "dx": 53, "dy": -2, "fontSize": 13, "fontStyle": "italic"}, "encoding": {"x": {"datum": 396, "type": "quantitative"}, "y": {"datum": 0, "type": "quantitative"}, "text": {"field": "gene"}}}
   ]}
  ]}
]
}
